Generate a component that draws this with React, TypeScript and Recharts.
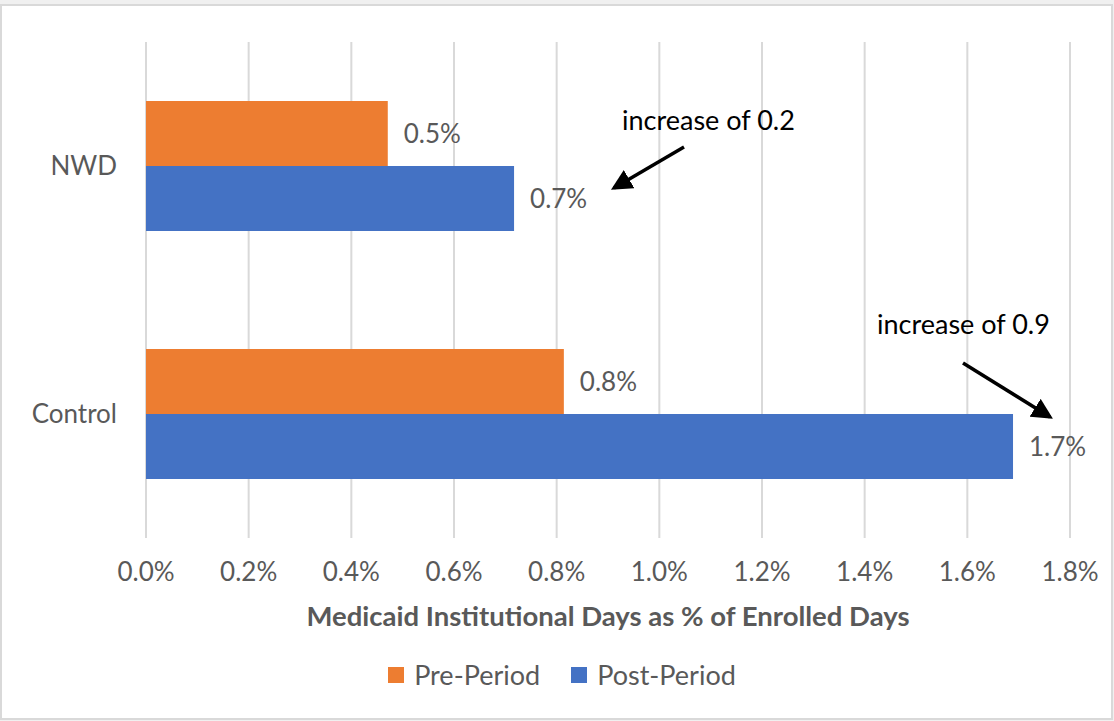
import React from "react";
import { BarChart, Bar, XAxis, YAxis, CartesianGrid, Legend, LabelList } from "recharts";

const categories = ["NWD", "Control"];
const prePeriod = [0.471, 0.814];
const postPeriod = [0.717, 1.689];
const xTicks = [0, 0.2, 0.4, 0.6, 0.8, 1.0, 1.2, 1.4, 1.6, 1.8];

const ORANGE = "#ED7D31";
const BLUE = "#4472C4";
const TEXT = "#595959";
const FONT = "Lato, 'Open Sans', sans-serif";

const data = categories.map((name, i) => ({ name, pre: prePeriod[i], post: postPeriod[i] }));

const pct = (v: number) => `${Number(v).toFixed(1)}%`;

function LegendContent() {
  const items = [
    { label: "Pre-Period", color: ORANGE },
    { label: "Post-Period", color: BLUE },
  ];
  return (
    <div
      style={{
        display: "flex",
        justifyContent: "center",
        gap: 31,
        paddingLeft: 10,
        fontFamily: FONT,
        fontSize: 27,
        color: TEXT,
      }}
    >
      {items.map((it) => (
        <div key={it.label} style={{ display: "flex", alignItems: "center" }}>
          <span style={{ width: 16, height: 16, background: it.color, marginRight: 10, display: "inline-block" }} />
          <span>{it.label}</span>
        </div>
      ))}
    </div>
  );
}

export default function App() {
  return (
    <div style={{ position: "absolute", left: 0, top: 0, width: 1114, height: 721, background: "#f0f0f0", overflow: "hidden" }}>
      <div
        style={{
          position: "absolute",
          left: 0,
          top: 4,
          width: 1109,
          height: 712,
          border: "2px solid #d9d9d9",
          background: "#fff",
        }}
      />
      <div style={{ position: "absolute", left: 0, top: 0 }}>
        <BarChart
          width={1114}
          height={721}
          data={data}
          layout="vertical"
          margin={{ top: 42, right: 44, left: 0, bottom: 83 }}
          barCategoryGap="23.8%"
          barGap={0}
        >
          <CartesianGrid horizontal={false} stroke="#d9d9d9" strokeWidth={2} />
          <XAxis
            type="number"
            domain={[0, 1.8]}
            ticks={xTicks}
            tickFormatter={pct}
            axisLine={false}
            tickLine={false}
            tickSize={0}
            tickMargin={25}
            height={100}
            interval={0}
            tick={{ fill: TEXT, fontSize: 26, fontFamily: FONT }}
            label={{
              value: "Medicaid Institutional Days as % of Enrolled Days",
              position: "insideBottom",
              offset: 12,
              fill: TEXT,
              fontSize: 27.5,
              fontWeight: 700,
              fontFamily: FONT,
            }}
          />
          <YAxis
            type="category"
            dataKey="name"
            width={146}
            axisLine={false}
            tickLine={false}
            tickSize={0}
            tickMargin={29}
            tick={{ fill: TEXT, fontSize: 26, fontFamily: FONT }}
          />
          <Legend
            layout="horizontal"
            verticalAlign="middle"
            align="center"
            wrapperStyle={{ top: 658, left: 0, width: 1114 }}
            content={<LegendContent />}
          />
          <Bar dataKey="pre" name="Pre-Period" fill={ORANGE} isAnimationActive={false}>
            <LabelList dataKey="pre" position="right" offset={16} formatter={pct} fill={TEXT} fontSize={26} fontFamily={FONT} />
          </Bar>
          <Bar dataKey="post" name="Post-Period" fill={BLUE} isAnimationActive={false}>
            <LabelList dataKey="post" position="right" offset={16} formatter={pct} fill={TEXT} fontSize={26} fontFamily={FONT} />
          </Bar>
        </BarChart>
      </div>
      <svg width={1114} height={721} style={{ position: "absolute", left: 0, top: 0, pointerEvents: "none" }}>
        <defs>
          <marker id="arrowhead" markerWidth="6" markerHeight="6" refX="5" refY="3" orient="auto" markerUnits="strokeWidth">
            <path d="M0,0 L6,3 L0,6 z" fill="#000" />
          </marker>
        </defs>
        <text x={622} y={130} fontFamily={FONT} fontSize={27} fill="#000">increase of 0.2</text>
        <line x1={684} y1={147} x2={614} y2={188} stroke="#000" strokeWidth={3.5} markerEnd="url(#arrowhead)" />
        <text x={877} y={334} fontFamily={FONT} fontSize={27} fill="#000">increase of 0.9</text>
        <line x1={963} y1={363} x2={1050} y2={417} stroke="#000" strokeWidth={3.5} markerEnd="url(#arrowhead)" />
      </svg>
    </div>
  );
}
